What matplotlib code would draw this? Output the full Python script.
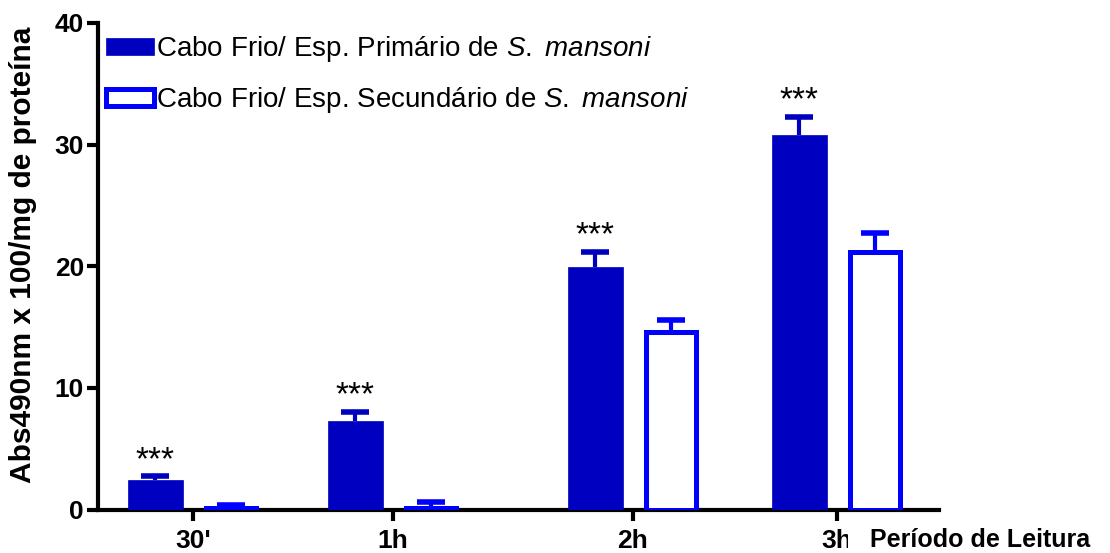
import numpy as np
import matplotlib
matplotlib.use('Agg')
import matplotlib.pyplot as plt

# data
periods = ["30'", "1h", "2h", "3h"]
primario = [2.4, 7.3, 19.9, 30.8]
primario_err = [0.35, 0.75, 1.3, 1.5]
secundario = [0.1, 0.1, 14.6, 21.2]
secundario_err = [0.3, 0.5, 1.0, 1.5]
signif = ['***', '***', '***', '***']

# layout (group centres, not evenly spaced in the original)
group_x = np.array([0.0, 1.0, 2.2, 3.22])

plt.rcParams['font.family'] = ['Liberation Sans', 'DejaVu Sans']
plt.rcParams['mathtext.fontset'] = 'custom'
plt.rcParams['mathtext.rm'] = 'Liberation Sans'
plt.rcParams['mathtext.it'] = 'Liberation Sans:italic'

fig = plt.figure(figsize=(11.1, 5.53), dpi=100)
ax = fig.add_axes([98 / 1110, 1 - 509.5 / 553, (939 - 98) / 1110, (509.5 - 23) / 553])

dark = '#0000C0'
light = '#0000FF'
off = 0.19


def bars_with_err(x, vals, errs, ecol, **kw):
    ax.bar(x, vals, zorder=3, **kw)
    eb = ax.errorbar(x, vals, yerr=[np.zeros(len(vals)), errs], fmt='none',
                     ecolor=ecol, elinewidth=3, capsize=10, capthick=4, zorder=2)
    # only the upper cap is drawn in the original
    eb[1][0].set_visible(False)


bars_with_err(group_x - off, primario, primario_err, dark,
              width=0.275, color=dark, edgecolor=dark, linewidth=0.5,
              label='Cabo Frio/ Esp. Primário de $\\mathit{S.}$ $\\mathit{mansoni}$')
bars_with_err(group_x + off, secundario, secundario_err, light,
              width=0.25, color='white', edgecolor=light, linewidth=3.6,
              label='Cabo Frio/ Esp. Secundário de $\\mathit{S.}$ $\\mathit{mansoni}$')

for xi, v, e, s in zip(group_x - off, primario, primario_err, signif):
    ax.annotate(s, (xi, v + e), xytext=(0, 5), textcoords='offset points',
                ha='center', va='baseline', fontsize=24)

ax.set_xlim(-0.475, 3.73)
ax.set_ylim(0, 40)
ax.set_yticks([0, 10, 20, 30, 40])
ax.set_xticks(group_x)
ax.set_xticklabels(periods)

for sp in ['top', 'right']:
    ax.spines[sp].set_visible(False)
for sp in ['left', 'bottom']:
    ax.spines[sp].set_linewidth(3)

ax.tick_params(axis='both', width=3, length=8, labelsize=19)
ax.tick_params(axis='x', pad=6)
ax.tick_params(axis='y', pad=2)
for lab in ax.get_xticklabels() + ax.get_yticklabels():
    lab.set_fontweight('bold')

fig.text(23 / 1110, 1 - 255 / 553, 'Abs490nm x 100/mg de proteína', rotation=90,
         fontsize=21.5, fontweight='bold', ha='center', va='center')

# leading spaces: the white box hides part of the "3h" label as in the original
fig.text(849 / 1110, 1 - 540 / 553, '   Período de Leitura', fontsize=18, fontweight='bold',
         ha='left', va='center',
         bbox=dict(facecolor='white', edgecolor='none', pad=0.5))

ax.legend(loc='upper left', bbox_to_anchor=(0.0, 0.994), frameon=False, fontsize=20,
          handlelength=1.7, handleheight=0.6, handletextpad=0.1, labelspacing=0.76,
          borderpad=0.0, borderaxespad=0.3)

fig.savefig('out.png', dpi=100)
